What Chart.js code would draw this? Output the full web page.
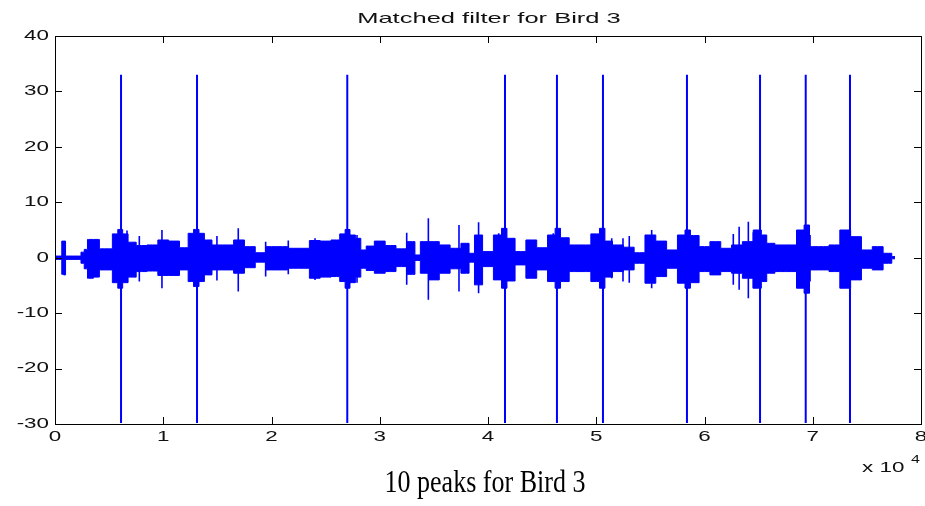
<!DOCTYPE html>
<html><head><meta charset="utf-8">
<script src="https://cdn.jsdelivr.net/npm/chart.js@4/dist/chart.umd.min.js"></script>
<style>html,body{margin:0;padding:0;background:#fff;overflow:hidden}#wrap{position:relative;width:925px;height:506px}</style>
</head><body><div id="wrap"><canvas id="c" width="925" height="506"></canvas></div>
<script>
const chartTitle = "Matched filter for Bird 3";
const captionText = "10 peaks for Bird 3";
const xExponentBase = "x 10";
const xExponent = "4";
const xTickValues = [0, 10000, 20000, 30000, 40000, 50000, 60000, 70000, 80000];
const xTickLabels = ["0", "1", "2", "3", "4", "5", "6", "7", "8"];
const yTickValues = [-30, -20, -10, 0, 10, 20, 30, 40];
const yTickLabels = ["-30", "-20", "-10", "0", "10", "20", "30", "40"];

// envelope of the filter output (sample index, upper value, lower value)
const envX  = [0, 600, 650, 950, 1000, 2300, 2500, 2900, 3100, 4000, 4200, 5000, 5600, 6000, 6500, 7000, 8000, 9000, 10000, 11000, 12000, 12600, 13000, 13600, 14000, 15000, 16000, 17000, 18000, 19000, 20000, 21000, 22000, 23000, 24000, 25000, 26000, 26600, 27000, 27500, 28000, 28500, 29000, 30000, 31000, 32000, 33000, 33500, 34000, 35000, 36000, 37000, 38000, 38500, 39000, 40000, 41000, 41500, 42000, 43000, 44000, 45000, 46000, 46400, 47000, 48000, 49000, 50000, 50600, 51000, 52000, 53000, 54000, 55000, 56000, 57000, 58000, 58400, 59000, 60000, 61000, 62000, 63000, 64000, 65000, 65500, 66000, 67000, 68000, 69000, 69400, 70000, 71000, 72000, 73000, 74000, 75000, 76000, 77000, 77600];
const envHi = [0.3, 0.3, 3.0, 3.0, 0.3, 0.3, 1.0, 1.5, 3.3, 3.3, 1.6, 1.6, 4.3, 5.1, 4.3, 2.8, 2.2, 2.3, 3.2, 3.0, 1.8, 4.4, 5.1, 4.4, 3.2, 2.3, 2.3, 3.2, 2.0, 0.9, 2.0, 2.0, 1.7, 1.7, 3.1, 3.0, 3.2, 4.3, 5.1, 4.1, 3.5, 1.4, 2.1, 3.0, 2.2, 1.6, 2.9, 0.5, 2.9, 2.9, 2.3, 1.7, 2.6, 0.8, 4.1, 1.1, 4.1, 5.3, 3.5, 1.1, 3.2, 1.8, 4.1, 5.3, 3.6, 2.3, 2.3, 4.3, 5.3, 3.0, 2.3, 1.9, 0.9, 4.1, 3.0, 1.4, 4.1, 5.0, 4.0, 2.0, 2.9, 1.7, 2.3, 2.9, 5.0, 4.1, 2.6, 2.3, 2.3, 5.0, 5.9, 2.0, 2.0, 2.3, 5.0, 3.8, 1.4, 2.0, 0.8, 0.2];
const envLo = [-0.3, -0.3, -3.0, -3.1, -0.3, -0.3, -1.0, -2.0, -3.7, -3.5, -2.2, -2.2, -4.5, -5.5, -4.5, -3.5, -2.5, -2.4, -3.2, -3.2, -2.2, -4.3, -5.2, -4.3, -3.1, -2.2, -2.2, -2.8, -1.8, -0.8, -2.2, -2.2, -1.9, -1.9, -3.7, -3.5, -3.4, -4.3, -5.5, -4.5, -3.5, -1.9, -2.3, -2.8, -2.5, -1.6, -3.0, -0.5, -2.8, -4.0, -2.8, -2.0, -2.8, -0.8, -4.9, -1.6, -4.0, -5.5, -4.2, -1.3, -3.7, -2.2, -4.3, -5.5, -4.3, -2.5, -2.5, -4.3, -5.5, -3.5, -2.5, -2.2, -1.0, -4.6, -3.4, -1.9, -4.6, -5.5, -4.5, -2.5, -3.1, -2.5, -2.8, -3.7, -5.5, -4.3, -2.8, -2.5, -2.5, -5.5, -6.4, -2.2, -2.2, -2.5, -5.5, -4.0, -1.9, -2.2, -1.0, -0.2];

// isolated narrow spikes above the envelope
const spikeX      = [6650, 7790, 9880, 14960, 16930, 19460, 21550, 24020, 27620, 27900, 32490, 34490, 37320, 39130, 40990, 46030, 51430, 52470, 53050, 55120, 62660, 63200, 64050, 64510, 68570, 69750, 72820];
const spikeTop    = [4.9, 3.9, 5.0, 3.9, 5.3, 2.9, 3.1, 3.5, 4.1, 4.1, 4.5, 7.1, 5.9, 6.4, 4.4, 4.4, 3.5, 3.5, 3.9, 5.0, 4.3, 5.6, 6.5, 4.6, 4.1, 4.1, 4.1];
const spikeBottom = [-4.0, -4.3, -5.5, -4.1, -6.1, -3.4, -3.0, -4.0, -4.5, -4.5, -4.9, -7.6, -6.1, -6.4, -4.0, -4.3, -3.7, -4.3, -4.5, -5.5, -4.9, -5.8, -7.3, -5.5, -4.6, -4.3, -4.0];

// the 10 matched-filter peaks
const peakX      = [6100, 13120, 27000, 41570, 46370, 50620, 58380, 65130, 69350, 73440];
const peakTop    = [33, 33, 33, 33, 33, 33, 33, 33, 33, 33];
const peakBottom = [-29.8, -29.8, -29.8, -29.8, -29.8, -29.8, -29.8, -29.8, -29.8, -29.8];

function segments(xs, tops, bots) {
  const out = [];
  xs.forEach((x, i) => { out.push({x: x, y: tops[i]}); out.push({x: x, y: bots[i]}); out.push({x: x, y: null}); });
  return out;
}

const BLUE = '#0000ff';
const SANS = '"Liberation Sans", Arial, sans-serif';
const tickFont = {family: SANS, size: 14};
const TEXT_STRETCH = 1.6;   // the reference figure's text is stretched horizontally

function stretchedText(ctx, sx) {
  if (ctx.__stretched) return;
  const orig = ctx.fillText;
  ctx.__stretchX = sx;
  ctx.fillText = function (t, x, y, mw) {
    const s = this.__stretchX || 1;
    this.save();
    this.translate(x, y);
    this.scale(s, 1);
    if (mw === undefined) orig.call(this, t, 0, 0); else orig.call(this, t, 0, 0, mw / s);
    this.restore();
  };
  ctx.__stretched = true;
}

const textPlugin = {
  id: 'wideText',
  beforeDraw(chart) { stretchedText(chart.ctx, TEXT_STRETCH); chart.ctx.__stretchX = TEXT_STRETCH; }
};

const boxPlugin = {
  id: 'matlabBox',
  afterDraw(chart) {
    const ctx = chart.ctx, a = chart.chartArea;
    const xs = chart.scales.x, ys = chart.scales.y;
    ctx.save();
    ctx.strokeStyle = '#000';
    ctx.lineWidth = 1;
    ctx.strokeRect(Math.round(a.left) + 0.5, Math.round(a.top) + 0.5, Math.round(a.right - a.left), Math.round(a.bottom - a.top));
    ctx.beginPath();
    const tl = 7;
    xTickValues.forEach(v => {
      const p = Math.round(xs.getPixelForValue(v)) + 0.5;
      ctx.moveTo(p, a.bottom); ctx.lineTo(p, a.bottom - tl);
      ctx.moveTo(p, a.top); ctx.lineTo(p, a.top + tl);
    });
    yTickValues.forEach(v => {
      const p = Math.round(ys.getPixelForValue(v)) + 0.5;
      ctx.moveTo(a.left, p); ctx.lineTo(a.left + tl, p);
      ctx.moveTo(a.right, p); ctx.lineTo(a.right - tl, p);
    });
    ctx.stroke();
    ctx.fillStyle = '#111';
    // title
    ctx.__stretchX = 1.7;
    ctx.font = '15px ' + SANS;
    ctx.textAlign = 'center';
    ctx.textBaseline = 'middle';
    ctx.fillText(chartTitle, 489, 19);
    // x 10^4
    ctx.__stretchX = TEXT_STRETCH;
    ctx.textAlign = 'left';
    ctx.font = '14px ' + SANS;
    ctx.fillText(xExponentBase, 862, 468);
    ctx.font = '10px ' + SANS;
    ctx.fillText(xExponent, 911, 460);
    // caption
    ctx.__stretchX = 0.84;
    ctx.fillStyle = '#000';
    ctx.font = '31px "Liberation Serif", "Times New Roman", serif';
    ctx.textAlign = 'center';
    ctx.textBaseline = 'alphabetic';
    ctx.fillText(captionText, 485, 492);
    ctx.__stretchX = TEXT_STRETCH;
    ctx.restore();
  }
};

new Chart(document.getElementById('c'), {
  type: 'scatter',
  data: {
    datasets: [
      {data: envX.map((x, i) => ({x: x, y: envLo[i]})), showLine: true, stepped: 'middle', borderColor: BLUE, borderWidth: 1, pointRadius: 0, fill: false},
      {data: envX.map((x, i) => ({x: x, y: envHi[i]})), showLine: true, stepped: 'middle', borderColor: BLUE, borderWidth: 1, pointRadius: 0, fill: '-1', backgroundColor: BLUE},
      {data: segments(spikeX, spikeTop, spikeBottom), showLine: true, spanGaps: false, borderColor: BLUE, borderWidth: 1.6, pointRadius: 0},
      {data: segments(peakX, peakTop, peakBottom), showLine: true, spanGaps: false, borderColor: BLUE, borderWidth: 2, pointRadius: 0}
    ]
  },
  options: {
    responsive: false, animation: false, devicePixelRatio: 1,
    layout: {padding: {left: 0, right: 4, top: 36, bottom: 0}},
    plugins: {legend: {display: false}, tooltip: {enabled: false}, title: {display: false}},
    scales: {
      x: {
        type: 'linear', min: 0, max: 80000,
        afterBuildTicks: s => { s.ticks = xTickValues.map(v => ({value: v})); },
        afterFit: s => { s.height = 82; s.paddingLeft = 0; s.paddingRight = 0; },
        ticks: {font: tickFont, color: '#111', padding: 5, maxRotation: 0, autoSkip: false,
                callback: (v) => xTickLabels[xTickValues.indexOf(v)]},
        grid: {display: false, drawTicks: false}, border: {display: false}
      },
      y: {
        type: 'linear', min: -30, max: 40,
        afterBuildTicks: s => { s.ticks = yTickValues.map(v => ({value: v})); },
        afterFit: s => { s.width = 55; s.paddingTop = 0; s.paddingBottom = 0; },
        ticks: {font: tickFont, color: '#111', padding: 6, autoSkip: false,
                callback: (v) => yTickLabels[yTickValues.indexOf(v)]},
        grid: {display: false, drawTicks: false}, border: {display: false}
      }
    }
  },
  plugins: [textPlugin, boxPlugin]
});
</script></body></html>
